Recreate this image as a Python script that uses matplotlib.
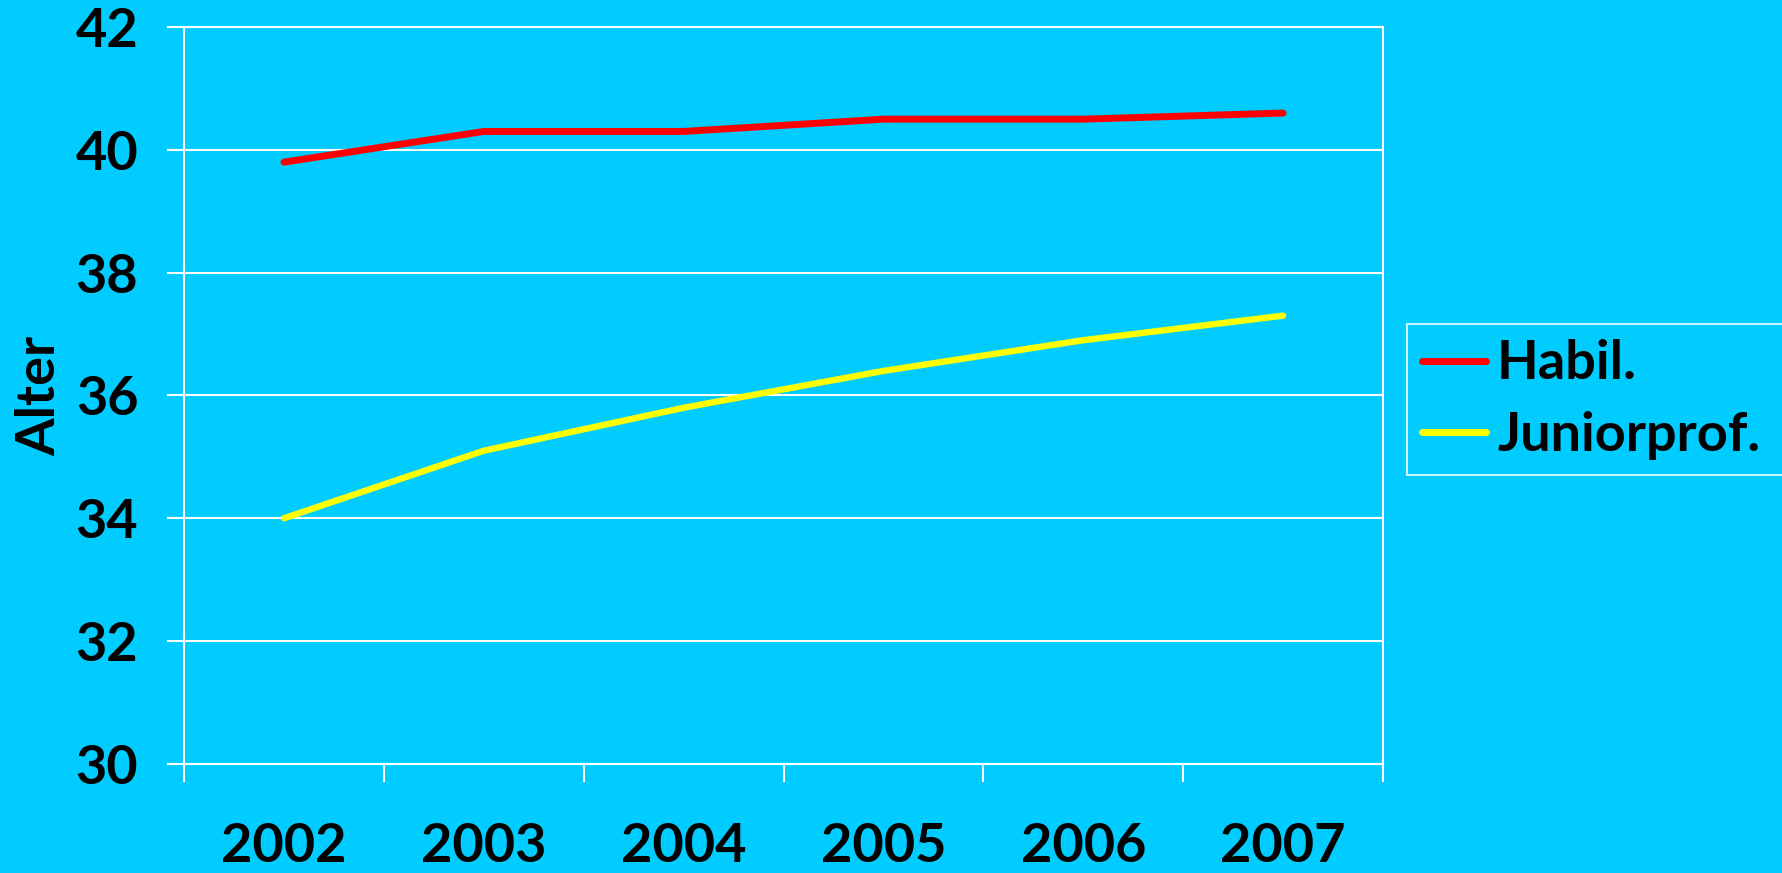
# -*- coding: utf-8 -*-
# Alter bei Habilitation und Juniorprofessur, 2002-2007

import numpy as np
import matplotlib.pyplot as plt
from matplotlib.ticker import FixedLocator, NullFormatter

# data
years = ["2002", "2003", "2004", "2005", "2006", "2007"]
habil = [39.8, 40.3, 40.3, 40.5, 40.5, 40.6]
juniorprof = [34.0, 35.1, 35.8, 36.4, 36.9, 37.3]
y_ticks = [30, 32, 34, 36, 38, 40, 42]

bg = "#00CCFF"
plt.rcParams["font.family"] = ["Lato", "DejaVu Sans"]
plt.rcParams["font.weight"] = "bold"

fig = plt.figure(figsize=(17.82, 8.73), dpi=100, facecolor=bg)
ax = fig.add_axes([0.1033, 0.125, 0.6728, 0.844], facecolor=bg)

x = np.arange(len(years))
ax.plot(x, habil, color="#FF0000", lw=5, solid_capstyle="round", label="Habil.")
ax.plot(x, juniorprof, color="#FFFF00", lw=4.6, solid_capstyle="round",
        label="Juniorprof.")

ax.set_xlim(-0.5, len(years) - 0.5)
ax.set_ylim(30, 42)
ax.set_yticks(y_ticks)
ax.yaxis.grid(True, color="white", lw=1.5)
ax.set_axisbelow(True)

# category boundaries get tick marks, labels sit in the middle
ax.xaxis.set_major_locator(FixedLocator(np.arange(len(years) + 1) - 0.5))
ax.xaxis.set_major_formatter(NullFormatter())
ax.xaxis.set_minor_locator(FixedLocator(x))
ax.set_xticklabels(years, minor=True)
ax.tick_params(axis="x", which="major", length=13, width=1.5, color="white",
               direction="out")
ax.tick_params(axis="x", which="minor", length=0, pad=42, labelsize=39)
ax.tick_params(axis="y", length=12, width=1.5, color="white", direction="out",
               pad=21, labelsize=39)

for s in ax.spines.values():
    s.set_color("white")
    s.set_linewidth(1.5)

ax.set_ylabel("Alter", fontsize=39, fontweight="bold")
ax.yaxis.set_label_coords(-0.1, 0.5)

# legend box runs off the right edge like in the original slide
leg = fig.legend(loc="upper left", bbox_to_anchor=(0.7896, 0.6285, 0.25, 0.0),
                 mode="expand", fontsize=39, frameon=True, fancybox=False,
                 borderaxespad=0, borderpad=0.28, handlelength=1.18,
                 handletextpad=0.2, labelspacing=0.42)
leg.get_frame().set_facecolor(bg)
leg.get_frame().set_edgecolor("white")
leg.get_frame().set_linewidth(1.5)
for line in leg.get_lines():
    line.set_linewidth(5)

fig.savefig("out.png", dpi=100, facecolor=bg)
